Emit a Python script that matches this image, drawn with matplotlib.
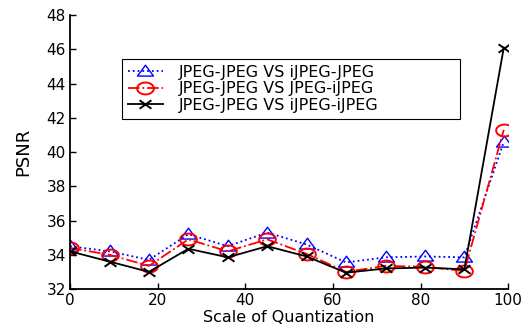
import matplotlib
matplotlib.use("Agg")
import matplotlib.pyplot as plt
from matplotlib.path import Path
import numpy as np

x = [0, 9, 18, 27, 36, 45, 54, 63, 72, 81, 90, 99]
s1 = [34.5, 34.2, 33.7, 35.2, 34.5, 35.3, 34.6, 33.55, 33.85, 33.9, 33.85, 40.6]
s2 = [34.4, 34.0, 33.35, 34.9, 34.2, 34.9, 34.05, 33.0, 33.35, 33.3, 33.05, 41.3]
s3 = [34.2, 33.6, 33.0, 34.35, 33.85, 34.5, 33.9, 32.95, 33.2, 33.25, 33.15, 46.1]
labels = ["JPEG-JPEG VS iJPEG-JPEG", "JPEG-JPEG VS JPEG-iJPEG", "JPEG-JPEG VS iJPEG-iJPEG"]
xticks = [0, 20, 40, 60, 80, 100]
yticks = [32, 34, 36, 38, 40, 42, 44, 46, 48]

# horizontally stretched marker shapes (as in the reference)
t = np.linspace(0, 2 * np.pi, 61)
ellipse = Path(np.column_stack([1.4 * np.cos(t), np.sin(t)]), closed=True)
tri = Path([(-1.4, -0.8), (1.4, -0.8), (0, 1.1), (-1.4, -0.8)], closed=True)
xmark = Path([(-1.4, -1), (1.4, 1), (-1.4, 1), (1.4, -1)],
             [Path.MOVETO, Path.LINETO, Path.MOVETO, Path.LINETO])

plt.rcParams['font.family'] = ['DejaVu Sans']
fig = plt.figure(figsize=(5.31, 3.29), dpi=100)
ax = fig.add_axes([0.132, 0.1216, 0.825, 0.8324])

ax.plot(x, s1, color='blue', linestyle=':', linewidth=1.3, marker=tri, markersize=11.5,
        markerfacecolor='none', markeredgecolor='blue', markeredgewidth=1.0, label=labels[0])
ax.plot(x, s2, color='red', linestyle='-.', linewidth=1.3, marker=ellipse, markersize=12,
        markerfacecolor='none', markeredgecolor='red', markeredgewidth=1.4, label=labels[1])
ax.plot(x, s3, color='black', linestyle='-', linewidth=1.3, marker=xmark, markersize=8.5,
        markerfacecolor='none', markeredgecolor='black', markeredgewidth=1.4, label=labels[2])

ax.set_xlim(0, 100)
ax.set_ylim(32, 48)
ax.set_xticks(xticks)
ax.set_yticks(yticks)
ax.spines['top'].set_visible(False)
ax.spines['right'].set_visible(False)
ax.spines['left'].set_linewidth(1.3)
ax.spines['bottom'].set_linewidth(1.3)
ax.tick_params(direction='in', length=4, width=1, labelsize=11, pad=3)
ax.set_xlabel("Scale of Quantization", fontsize=11.5, labelpad=1)
ax.set_ylabel("PSNR", fontsize=13, labelpad=10)

leg = ax.legend(loc='upper left', bbox_to_anchor=(0.119, 0.839, 0.772, 0), mode='expand',
                fontsize=11.5, frameon=True, fancybox=False, edgecolor='black', framealpha=1,
                borderaxespad=0, handlelength=2.2, handletextpad=1.0,
                labelspacing=0.1, borderpad=0.35)
leg.get_frame().set_linewidth(0.8)

fig.savefig("out.png", dpi=100)
